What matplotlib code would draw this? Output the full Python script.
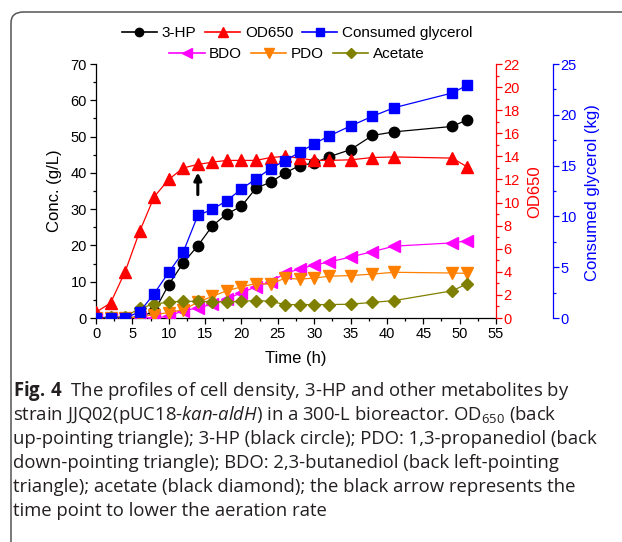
import matplotlib
matplotlib.use('Agg')
import matplotlib.pyplot as plt
from matplotlib.patches import FancyBboxPatch
from matplotlib.ticker import MultipleLocator
from matplotlib.lines import Line2D

# ---------------- data ----------------
time_h = [0, 2, 4, 6, 8, 10, 12, 14, 16, 18, 20, 22, 24, 26, 28, 30, 32, 35, 38, 41, 49, 51]
hp3 = [0, 0, 0, 0.3, 1.8, 9.2, 15.2, 19.9, 25.4, 28.7, 30.8, 35.8, 37.4, 40.0, 42.0, 42.7,
       44.4, 46.4, 50.3, 51.3, 52.8, 54.6]
od650 = [0.5, 1.3, 4.0, 7.5, 10.5, 12.0, 13.0, 13.3, 13.5, 13.65, 13.65, 13.65, 13.9, 14.0,
         13.85, 13.65, 13.65, 13.7, 13.9, 13.95, 13.85, 13.1]
glycerol = [0, 0, 0, 0.6, 2.4, 4.5, 6.5, 10.1, 10.7, 11.55, 12.7, 13.7, 14.7, 15.5, 16.3,
            17.15, 17.9, 18.9, 19.85, 20.7, 22.15, 22.9]
bdo = [0, 0, 0, 0, 0, 0.5, 2.0, 2.8, 3.8, 5.2, 7.0, 8.6, 10.0, 12.3, 13.5, 14.6, 15.4, 16.8,
       18.3, 19.8, 20.7, 21.3]
pdo = [0, 0, 0, 0.3, 0.9, 1.5, 2.3, 4.3, 6.0, 7.5, 8.6, 9.5, 9.3, 11.0, 10.7, 11.0, 11.5,
       11.7, 12.1, 12.6, 12.4, 12.3]
acetate = [0, 0.3, 0.3, 2.7, 3.8, 4.4, 4.6, 4.6, 4.5, 4.4, 4.6, 4.8, 4.6, 3.7, 3.7, 3.7, 3.7,
           3.8, 4.3, 4.8, 7.5, 9.4]
arrow_time = 14
arrow_from, arrow_to = 34.0, 40.1

caption_lines = [
    r"$\mathbf{Fig.\,4}$  The profiles of cell density, 3-HP and other metabolites by",
    r"strain JJQ02(pUC18-$\mathit{kan}$-$\mathit{aldH}$) in a 300-L bioreactor. OD$_{\mathrm{650}}$ (back",
    "up-pointing triangle); 3-HP (black circle); PDO: 1,3-propanediol (back",
    "down-pointing triangle); BDO: 2,3-butanediol (back left-pointing",
    "triangle); acetate (black diamond); the black arrow represents the",
    "time point to lower the aeration rate",
]

# ---------------- style ----------------
plt.rcParams['font.family'] = ['Liberation Sans', 'DejaVu Sans']
plt.rcParams['mathtext.fontset'] = 'custom'
plt.rcParams['mathtext.rm'] = 'Open Sans'
plt.rcParams['mathtext.it'] = 'Open Sans:italic'
plt.rcParams['mathtext.bf'] = 'Open Sans:bold'

W, H = 622, 542
fig = plt.figure(figsize=(W / 100, H / 100), dpi=100)

def fx(px):
    return px / W

def fy(py):
    return 1 - py / H

# frame around figure
frame = FancyBboxPatch((fx(11), fy(560)), fx(640) - fx(11), fy(12) - fy(560),
                       boxstyle="round,pad=0,rounding_size=0.02", transform=fig.transFigure,
                       facecolor='none', edgecolor='#555555', lw=1.1, clip_on=False)
fig.patches.append(frame)

L, R, T, B = 96, 496, 64, 318
ax = fig.add_axes([fx(L), fy(B), fx(R) - fx(L), fy(T) - fy(B)])
ax2 = ax.twinx()
ax3 = ax.twinx()

red, blue, mag, orange, olive = '#ff0000', '#0000ff', '#ff00ff', '#ff8000', '#808000'

lw = 0.9
ax.plot(time_h, hp3, '-', color='k', marker='o', ms=7.5, lw=lw, zorder=3)
ax.plot(time_h, bdo, '-', color=mag, marker='<', ms=8.5, lw=lw, zorder=3)
ax.plot(time_h, pdo, '-', color=orange, marker='v', ms=8.5, lw=lw, zorder=3)
ax.plot(time_h, acetate, '-', color=olive, marker='D', ms=6.5, lw=lw, zorder=3)
ax2.plot(time_h, od650, '-', color=red, marker='^', ms=8.5, lw=lw)
ax3.plot(time_h, glycerol, '-', color=blue, marker='s', ms=6.5, lw=lw)

ax.annotate('', xy=(arrow_time, arrow_to), xytext=(arrow_time, arrow_from),
            arrowprops=dict(arrowstyle='-|>', color='k', lw=2.2, mutation_scale=11,
                            shrinkA=0, shrinkB=0))

ax.set_xlim(0, 55)
ax.set_ylim(0, 70)
ax2.set_ylim(0, 22)
ax3.set_ylim(0, 25)

ax.xaxis.set_major_locator(MultipleLocator(5))
ax.xaxis.set_minor_locator(MultipleLocator(2.5))
ax.yaxis.set_major_locator(MultipleLocator(10))
ax.yaxis.set_minor_locator(MultipleLocator(5))
ax2.yaxis.set_major_locator(MultipleLocator(2))
ax2.yaxis.set_minor_locator(MultipleLocator(1))
ax3.yaxis.set_major_locator(MultipleLocator(5))
ax3.yaxis.set_minor_locator(MultipleLocator(2.5))

for s in ['top', 'right']:
    ax.spines[s].set_visible(False)
for a in (ax2, ax3):
    for s in ['top', 'left', 'bottom']:
        a.spines[s].set_visible(False)
ax3.spines['right'].set_position(('axes', (553 - L) / (R - L)))
ax2.spines['right'].set_color(red)
ax3.spines['right'].set_color(blue)
for a in (ax, ax2, ax3):
    for s in a.spines.values():
        s.set_linewidth(0.9)

tick_fs = 10.5
ax.tick_params(which='major', direction='out', length=4, width=0.9, labelsize=tick_fs, pad=2.5)
ax.tick_params(which='minor', direction='out', length=2.3, width=0.9)
ax2.tick_params(axis='y', which='major', direction='out', length=4, width=0.9, colors=red,
                labelsize=tick_fs, pad=1.5)
ax2.tick_params(axis='y', which='minor', direction='out', length=2.3, width=0.9, colors=red)
ax3.tick_params(axis='y', which='major', direction='out', length=4, width=0.9, colors=blue,
                labelsize=tick_fs, pad=1.5)
ax3.tick_params(axis='y', which='minor', direction='out', length=2.3, width=0.9, colors=blue)

lab_fs = 12
fig.text(fx(55), fy(191), 'Conc. (g/L)', rotation=90, ha='center', va='center', fontsize=lab_fs)
fig.text(fx(535), fy(192), 'OD650', rotation=90, ha='center', va='center', fontsize=lab_fs,
         color=red)
fig.text(fx(592), fy(193), 'Consumed glycerol (kg)', rotation=90, ha='center', va='center',
         fontsize=lab_fs, color=blue)
fig.text(fx(296), fy(359), 'Time (h)', ha='center', va='center', fontsize=lab_fs)

# legends
def h(color, marker, ms):
    return Line2D([], [], color=color, marker=marker, ms=ms, lw=1.2,
                  markerfacecolor=color, markeredgecolor=color)

leg_kw = dict(frameon=False, ncol=3, fontsize=11, handlelength=2.3, handletextpad=0.3,
              columnspacing=0.6, borderpad=0, borderaxespad=0, loc='center')
row1 = fig.legend([h('k', 'o', 6), h(red, '^', 6.5), h(blue, 's', 5.5)],
                  ['3-HP', 'OD650', 'Consumed glycerol'],
                  bbox_to_anchor=(fx(297), fy(33)), **leg_kw)
row2 = fig.legend([h(mag, '<', 6.5), h(orange, 'v', 6.5), h(olive, 'D', 5.5)],
                  ['BDO', 'PDO', 'Acetate'],
                  bbox_to_anchor=(fx(297), fy(54)), **leg_kw)

# caption
cap_fs = 13.5
fig.canvas.draw()
renderer = fig.canvas.get_renderer()
test = fig.text(0, 0, caption_lines[2], fontsize=cap_fs, family='Open Sans')
wpx = test.get_window_extent(renderer).width
test.remove()
cap_fs = cap_fs * 584 / wpx
baselines = [396, 420, 444, 468, 492, 516]
for line, yb in zip(caption_lines, baselines):
    fig.text(fx(13), fy(yb), line, fontsize=cap_fs, family='Open Sans', color='#231f20',
             ha='left', va='baseline')

fig.savefig('out.png', dpi=100)
